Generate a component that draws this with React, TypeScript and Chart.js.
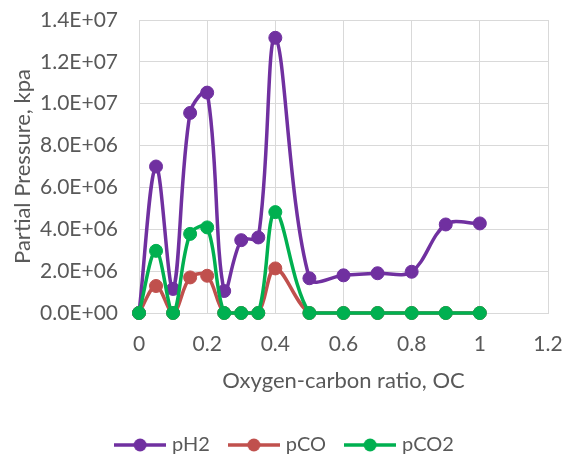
import React, { useEffect, useRef } from "react";
import { Chart, registerables } from "chart.js";
Chart.register(...registerables);

const xValues = [0, 0.05, 0.1, 0.15, 0.2, 0.25, 0.3, 0.35, 0.4, 0.5, 0.6, 0.7, 0.8, 0.9, 1.0];
const pH2 = [0, 7.0e6, 1.15e6, 9.56e6, 1.053e7, 1.05e6, 3.48e6, 3.61e6, 1.315e7, 1.66e6, 1.8e6, 1.9e6, 1.97e6, 4.23e6, 4.28e6];
const pCO = [0, 1.29e6, 0, 1.7e6, 1.78e6, 0, 0, 0, 2.13e6, 0, 0, 0, 0, 0, 0];
const pCO2 = [0, 2.97e6, 0, 3.78e6, 4.09e6, 0, 0, 0, 4.82e6, 0, 0, 0, 0, 0, 0];
const seriesNames = ["pH2", "pCO", "pCO2"];
const seriesColors = ["#7030A0", "#C0504D", "#00B050"];

const FONT = "Lato, 'Noto Sans', sans-serif";
const TEXT = "#595959";
const GRID = "#D9D9D9";

function legendImage(color: string) {
  const c = document.createElement("canvas");
  c.width = 52;
  c.height = 14;
  const ctx = c.getContext("2d")!;
  ctx.strokeStyle = color;
  ctx.lineWidth = 3.5;
  ctx.beginPath();
  ctx.moveTo(0, 7);
  ctx.lineTo(52, 7);
  ctx.stroke();
  ctx.fillStyle = color;
  ctx.beginPath();
  ctx.arc(26, 7, 6.5, 0, Math.PI * 2);
  ctx.fill();
  return c;
}

function sciLabel(v: number) {
  const s = Number(v).toExponential(1);
  const [m, e] = s.split("e");
  const sign = e[0] === "-" ? "-" : "+";
  const d = e.replace(/[+-]/, "").padStart(2, "0");
  return `${m}E${sign}${d}`;
}

export default function App() {
  const ref = useRef<HTMLCanvasElement>(null);
  useEffect(() => {
    if (!ref.current) return;
    const all = [pH2, pCO, pCO2];
    const images = seriesColors.map(legendImage);
    const chart = new Chart(ref.current, {
      type: "line",
      data: {
        datasets: all.map((vals, i) => ({
          label: seriesNames[i],
          data: xValues.map((x, j) => ({ x, y: vals[j] })),
          borderColor: seriesColors[i],
          backgroundColor: seriesColors[i],
          pointBackgroundColor: seriesColors[i],
          pointBorderColor: seriesColors[i],
          borderWidth: 3.5,
          pointRadius: 6.5,
          pointBorderWidth: 1,
          tension: 0.35,
          clip: false as any,
          order: 2 - i,
        })),
      },
      options: {
        responsive: false,
        animation: false,
        layout: { padding: { top: 20, right: 15, left: 24, bottom: -7 } },
        plugins: {
          tooltip: { enabled: false },
          legend: {
            position: "bottom",
            labels: {
              usePointStyle: true,
              pointStyleWidth: 44,
              padding: 22,
              color: TEXT,
              font: { family: FONT, size: 20 },
              generateLabels: (ch: any) => {
                const items = Chart.defaults.plugins.legend.labels.generateLabels(ch);
                items.sort((a: any, b: any) => a.datasetIndex - b.datasetIndex);
                return items.map((it: any) => ({ ...it, pointStyle: images[it.datasetIndex] }));
              },
            },
          },
        },
        scales: {
          x: {
            type: "linear",
            min: 0,
            max: 1.2,
            ticks: {
              stepSize: 0.2,
              color: TEXT,
              padding: 19,
              font: { family: FONT, size: 21 },
              callback: (v: any) => String(Math.round(Number(v) * 10) / 10),
            },
            grid: { color: GRID, lineWidth: 1, drawTicks: false },
            border: { color: GRID },
            title: {
              display: true,
              text: "Oxygen-carbon ratio, OC",
              color: TEXT,
              font: { family: FONT, size: 22, weight: "normal" },
              padding: { top: 0, bottom: 19 },
            },
            afterFit: (s: any) => {
              s.height = 100;
              s.paddingLeft = 0;
              s.paddingRight = 0;
            },
          },
          y: {
            type: "linear",
            min: 0,
            max: 1.4e7,
            ticks: {
              stepSize: 2e6,
              color: TEXT,
              padding: 21,
              font: { family: FONT, size: 21 },
              callback: (v: any) => sciLabel(Number(v)),
            },
            grid: { color: GRID, lineWidth: 1, drawTicks: false },
            border: { color: GRID },
            title: {
              display: true,
              text: "Partial Pressure, kpa",
              color: TEXT,
              font: { family: FONT, size: 22, weight: "normal" },
              padding: { top: -14, bottom: 0 },
            },
            afterFit: (s: any) => {
              s.width = 115;
              s.paddingTop = 0;
              s.paddingBottom = 0;
            },
          },
        },
      },
    });
    return () => chart.destroy();
  }, []);
  return (
    <div style={{ position: "fixed", left: 0, top: 0, width: 563, height: 458, background: "#fff" }}>
      <canvas ref={ref} width={563} height={458} style={{ width: 563, height: 458 }} />
    </div>
  );
}
